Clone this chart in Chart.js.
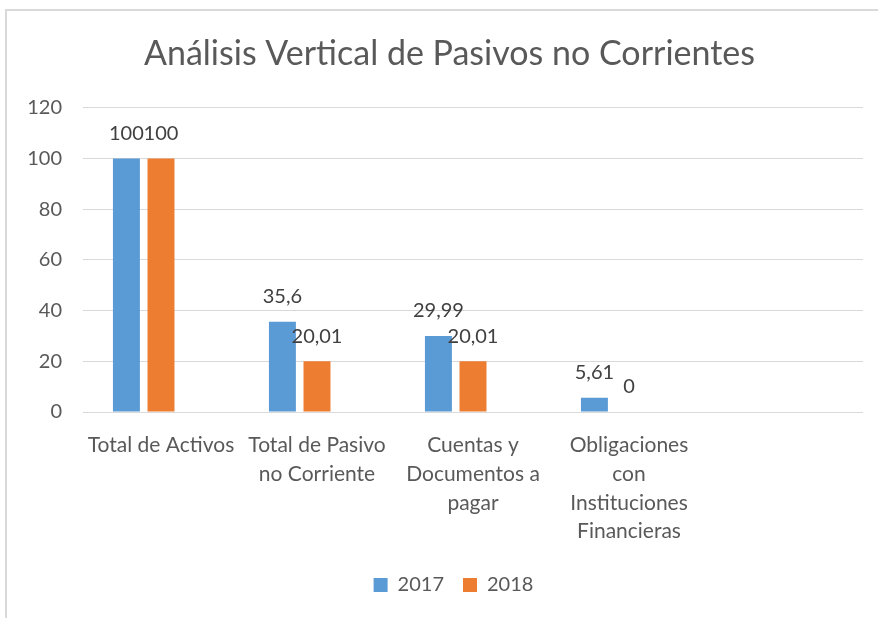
<!DOCTYPE html>
<html>
<head>
<meta charset="utf-8">
<script src="https://cdn.jsdelivr.net/npm/chart.js@4/dist/chart.umd.min.js"></script>
<style>
    html, body { margin: 0; padding: 0; background: #ffffff; }
    #marco {
        position: absolute; left: 5px; top: 9px;
        width: 900px; height: 700px;
        border: 2px solid #d9d9d9;
    }
    #graficoPasivos { position: absolute; left: 0; top: 0; }
</style>
</head>
<body>
<div id="marco"></div>
<canvas id="graficoPasivos" width="878" height="618"></canvas>
<script>
// Datos del gráfico
const categorias = [
    'Total de Activos',
    ['Total de Pasivo', 'no Corriente'],
    ['Cuentas y', 'Documentos a', 'pagar'],
    ['Obligaciones', 'con', 'Instituciones', 'Financieras'],
    ''
];
const valores2017 = [100, 35.6, 29.99, 5.61, null];
const valores2018 = [100, 20.01, 20.01, 0, null];
const valoresSerie3 = [null, null, null, null, null];
const ticksEjeY = [0, 20, 40, 60, 80, 100, 120];

const fuente = 'Lato, "Noto Sans", sans-serif';

// Etiquetas de datos encima de cada barra
const etiquetasDatos = {
    id: 'etiquetasDatos',
    afterDatasetsDraw(chart) {
        const ctx = chart.ctx;
        ctx.save();
        ctx.font = '20px ' + fuente;
        ctx.fillStyle = '#404040';
        ctx.textAlign = 'center';
        ctx.textBaseline = 'middle';
        chart.data.datasets.forEach((ds, i) => {
            const meta = chart.getDatasetMeta(i);
            meta.data.forEach((barra, j) => {
                const v = ds.data[j];
                if (v === null || v === undefined) return;
                ctx.fillText(String(v).replace('.', ','), barra.x, barra.y - 25);
            });
        });
        ctx.restore();
    }
};

// Desplazar un poco el título y la leyenda hacia la derecha, como en el original
const ajusteCajas = {
    id: 'ajusteCajas',
    afterLayout(chart) {
        if (chart.titleBlock) {
            chart.titleBlock.left += 8;
            chart.titleBlock.right += 8;
        }
        if (chart.legend) {
            chart.legend.left += 12;
            chart.legend.right += 12;
        }
    }
};

const ctx = document.getElementById('graficoPasivos');
new Chart(ctx, {
    type: 'bar',
    data: {
        labels: categorias,
        datasets: [
            { label: '2017', data: valores2017, backgroundColor: '#5b9bd5',
              categoryPercentage: 0.665, barPercentage: 0.78 },
            { label: '2018', data: valores2018, backgroundColor: '#ed7d31',
              categoryPercentage: 0.665, barPercentage: 0.78 },
            { label: '', data: valoresSerie3, backgroundColor: '#a5a5a5',
              categoryPercentage: 0.665, barPercentage: 0.78 }
        ]
    },
    options: {
        responsive: false,
        animation: false,
        maintainAspectRatio: false,
        layout: { padding: { left: 20, right: 15, top: 0, bottom: 13 } },
        plugins: {
            title: {
                display: true,
                text: 'Análisis Vertical de Pasivos no Corrientes',
                color: '#595959',
                font: { family: fuente, size: 34, weight: 'normal', lineHeight: 1.2 },
                padding: { top: 34, bottom: 33 }
            },
            legend: {
                position: 'bottom',
                labels: {
                    color: '#595959',
                    font: { family: fuente, size: 20 },
                    boxWidth: 14,
                    boxHeight: 14,
                    padding: 19,
                    filter: item => item.text !== ''
                }
            },
            tooltip: { enabled: false }
        },
        scales: {
            y: {
                min: 0,
                max: 120,
                afterFit: scale => { scale.width = 63; },
                afterBuildTicks: scale => { scale.ticks = ticksEjeY.map(v => ({ value: v })); },
                border: { display: false },
                grid: { color: '#d9d9d9', lineWidth: 1, drawTicks: false },
                ticks: {
                    color: '#595959',
                    font: { family: fuente, size: 20 },
                    padding: 21
                }
            },
            x: {
                afterFit: scale => { scale.height = 144; },
                border: { display: false },
                grid: { display: false },
                ticks: {
                    color: '#595959',
                    font: { family: fuente, size: 21, lineHeight: 1.37 },
                    padding: 11,
                    maxRotation: 0,
                    autoSkip: false
                }
            }
        }
    },
    plugins: [etiquetasDatos, ajusteCajas]
});
</script>
</body>
</html>
